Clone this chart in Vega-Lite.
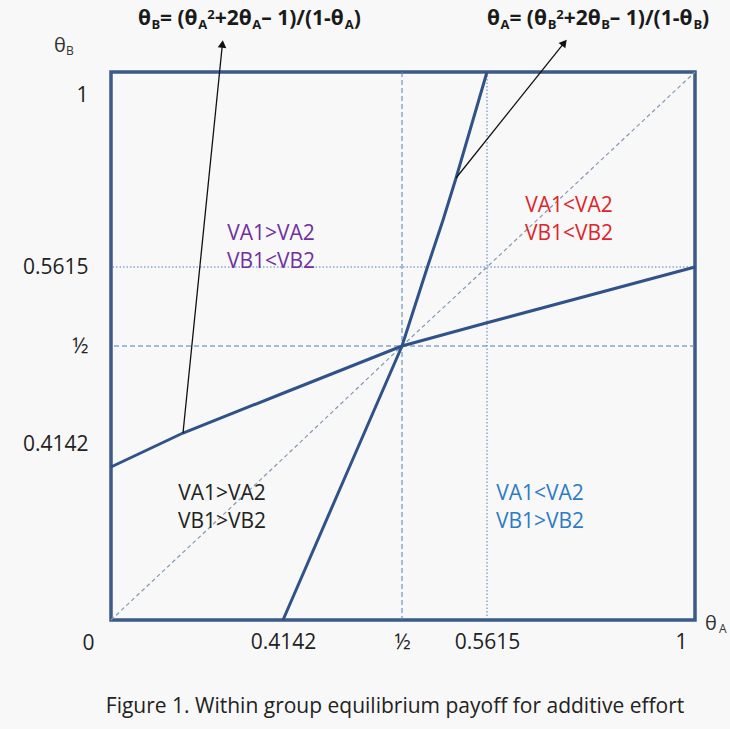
{
  "$schema": "https://vega.github.io/schema/vega-lite/v6.json",
  "autosize": "none",
  "width": 584,
  "height": 548,
  "padding": {"left": 111, "top": 72, "right": 35, "bottom": 109},
  "background": "#f8f8f8",
  "config": {
    "view": {"stroke": "#3c5a88", "strokeWidth": 3.5},
    "axis": {"domain": false, "ticks": false, "grid": false, "labelFont": "Open Sans", "labelFontSize": 21, "labelColor": "#222222", "title": null},
    "text": {"font": "Open Sans"}
  },
  "datasets": {
    "curves": [
      {"curve": "thetaB of thetaA", "a": 0, "b": 0.4142},
      {"curve": "thetaB of thetaA", "a": 0.1734, "b": 0.4383},
      {"curve": "thetaB of thetaA", "a": 0.4142, "b": 0.4665},
      {"curve": "thetaB of thetaA", "a": 0.5, "b": 0.5},
      {"curve": "thetaB of thetaA", "a": 0.5615, "b": 0.5181},
      {"curve": "thetaB of thetaA", "a": 1, "b": 0.5615},
      {"curve": "thetaA of thetaB", "a": 0.4142, "b": 0},
      {"curve": "thetaA of thetaB", "a": 0.4621, "b": 0.4142},
      {"curve": "thetaA of thetaB", "a": 0.5, "b": 0.5},
      {"curve": "thetaA of thetaB", "a": 0.5184, "b": 0.5615},
      {"curve": "thetaA of thetaB", "a": 0.5297, "b": 0.667},
      {"curve": "thetaA of thetaB", "a": 0.5391, "b": 0.7616},
      {"curve": "thetaA of thetaB", "a": 0.5615, "b": 1}
    ],
    "diagonal": [
      {"a": 0, "b": 0},
      {"a": 0.3926, "b": 0.4142},
      {"a": 0.4142, "b": 0.4202},
      {"a": 0.5, "b": 0.5},
      {"a": 0.5615, "b": 0.5615},
      {"a": 1, "b": 1}
    ],
    "vrules": [{"a": 0.5, "kind": "half"}, {"a": 0.5615, "kind": "root"}],
    "hrules": [{"b": 0.5, "kind": "half"}, {"b": 0.5615, "kind": "root"}],
    "arrows": [
      {"id": 1, "a": 0.1734, "b": 0.4383, "a2": 0.2683, "b2": 1.063},
      {"id": 2, "a": 0.5391, "b": 0.7616, "a2": 0.7245, "b2": 1.0659}
    ],
    "regions": [
      {"region": "purple", "t": "VA1>VA2\nVB1<VB2", "a": 0.3853, "b": 0.6357},
      {"region": "red", "t": "VA1<VA2\nVB1<VB2", "a": 0.7344, "b": 0.6987},
      {"region": "black", "t": "VA1>VA2\nVB1>VB2", "a": 0.2673, "b": 0.3411},
      {"region": "blue", "t": "VA1<VA2\nVB1>VB2", "a": 0.6732, "b": 0.3411}
    ],
    "pieces": [
      {"g": "f", "role": "main", "t": "θ", "a": 0.0650, "b": 1.1057},
      {"g": "f", "role": "sub", "t": "B", "a": 0.0973, "b": 1.1057},
      {"g": "f", "role": "main", "t": "= (θ", "a": 0.1180, "b": 1.1057},
      {"g": "f", "role": "sub", "t": "A", "a": 0.2102, "b": 1.1057},
      {"g": "f", "role": "sup", "t": "2", "a": 0.2319, "b": 1.1057},
      {"g": "f", "role": "main", "t": "+2θ", "a": 0.2497, "b": 1.1057},
      {"g": "f", "role": "sub", "t": "A", "a": 0.3400, "b": 1.1057},
      {"g": "f", "role": "main", "t": "– 1)/(1-θ", "a": 0.3617, "b": 1.1057},
      {"g": "f", "role": "sub", "t": "A", "a": 0.4588, "b": 1.1057},
      {"g": "f", "role": "main", "t": ")", "a": 0.4653, "b": 1.1057},
      {"g": "f", "role": "main", "t": "θ", "a": 0.5615, "b": 1.1057},
      {"g": "f", "role": "sub", "t": "A", "a": 0.5898, "b": 1.1057},
      {"g": "f", "role": "main", "t": "= (θ", "a": 0.6087, "b": 1.1057},
      {"g": "f", "role": "sub", "t": "B", "a": 0.6895, "b": 1.1057},
      {"g": "f", "role": "sup", "t": "2", "a": 0.7076, "b": 1.1057},
      {"g": "f", "role": "main", "t": "+2θ", "a": 0.7232, "b": 1.1057},
      {"g": "f", "role": "sub", "t": "B", "a": 0.8023, "b": 1.1057},
      {"g": "f", "role": "main", "t": "– 1)/(1-θ", "a": 0.8204, "b": 1.1057},
      {"g": "f", "role": "sub", "t": "B", "a": 0.9969, "b": 1.1057},
      {"g": "f", "role": "main", "t": ")", "a": 1.0150, "b": 1.1057},
      {"g": "t", "role": "main", "t": "θ", "a": -0.1373, "b": 1.0450},
      {"g": "t", "role": "sub", "t": "B", "a": -0.1084, "b": 1.0450},
      {"g": "t", "role": "main", "t": "θ", "a": 1.0212, "b": -0.0271},
      {"g": "t", "role": "sub", "t": "A", "a": 1.0506, "b": -0.0271}
    ],
    "caption": [
      {"t": "Figure 1. Within group equilibrium payoff for additive effort", "a": 0.4950, "b": -0.2350}
    ]
  },
  "layer": [
    {
      "data": {"name": "curves"},
      "mark": {"type": "line", "color": "#2f5389", "strokeWidth": 3, "opacity": 0},
      "encoding": {
        "x": {"field": "a", "type": "quantitative",
          "scale": {"type": "linear", "domain": [0, 0.4142, 0.5, 0.5615, 1], "range": [0, 172, 291, 376, 584], "nice": false, "zero": false},
          "axis": {"title": null, "values": [0.4142, 0.5, 0.5615, 1], "labelPadding": 11, "labelFlush": true, "labelFlushOffset": -8,
            "labelExpr": "datum.value == 0.5 ? '½' : datum.value == 1 ? '1' : format(datum.value, '.4f')"}},
        "y": {"field": "b", "type": "quantitative",
          "scale": {"type": "linear", "domain": [0, 0.4142, 0.5, 0.5615, 1], "range": [548, 395, 274, 195, 0], "nice": false, "zero": false},
          "axis": {"title": null, "values": [0, 0.4142, 0.5, 0.5615, 1], "labelPadding": 23, "labelLineHeight": 46, "labelFlush": false,
            "labelAlign": {"condition": {"test": "datum.value == 0", "value": "center"}, "value": "right"},
            "labelBaseline": {"condition": [{"test": "datum.value == 0 || datum.value == 1", "value": "line-top"}, {"test": "datum.value < 0.45", "value": "line-bottom"}], "value": "middle"},
            "labelExpr": "datum.value == 0.5 ? '½' : datum.value == 1 ? '1' : datum.value == 0 ? '0' : format(datum.value, '.4f')"}},
        "detail": {"field": "curve", "type": "nominal"}
      }
    },
    {
      "data": {"name": "vrules"},
      "mark": {"type": "rule", "color": "#4f7fb8", "strokeWidth": 1},
      "encoding": {
        "x": {"field": "a", "type": "quantitative", "scale": {"type": "linear", "domain": [0, 0.4142, 0.5, 0.5615, 1], "range": [0, 172, 291, 376, 584], "nice": false, "zero": false}},
        "strokeDash": {"field": "kind", "type": "nominal", "legend": null, "scale": {"domain": ["half", "root"], "range": [[5, 3], [1.5, 2]]}}
      }
    },
    {
      "data": {"name": "hrules"},
      "mark": {"type": "rule", "color": "#4f7fb8", "strokeWidth": 1},
      "encoding": {
        "y": {"field": "b", "type": "quantitative", "scale": {"type": "linear", "domain": [0, 0.4142, 0.5, 0.5615, 1], "range": [548, 395, 274, 195, 0], "nice": false, "zero": false}},
        "strokeDash": {"field": "kind", "type": "nominal", "legend": null, "scale": {"domain": ["half", "root"], "range": [[5, 3], [1.5, 2]]}}
      }
    },
    {
      "data": {"name": "diagonal"},
      "mark": {"type": "line", "color": "#8398b3", "strokeWidth": 1.2, "strokeDash": [4, 3]},
      "encoding": {
        "x": {"field": "a", "type": "quantitative", "scale": {"type": "linear", "domain": [0, 0.4142, 0.5, 0.5615, 1], "range": [0, 172, 291, 376, 584], "nice": false, "zero": false}},
        "y": {"field": "b", "type": "quantitative", "scale": {"type": "linear", "domain": [0, 0.4142, 0.5, 0.5615, 1], "range": [548, 395, 274, 195, 0], "nice": false, "zero": false}}
      }
    },
    {
      "data": {"name": "curves"},
      "mark": {"type": "line", "color": "#2f5389", "strokeWidth": 3},
      "encoding": {
        "x": {"field": "a", "type": "quantitative", "scale": {"type": "linear", "domain": [0, 0.4142, 0.5, 0.5615, 1], "range": [0, 172, 291, 376, 584], "nice": false, "zero": false}},
        "y": {"field": "b", "type": "quantitative", "scale": {"type": "linear", "domain": [0, 0.4142, 0.5, 0.5615, 1], "range": [548, 395, 274, 195, 0], "nice": false, "zero": false}},
        "detail": {"field": "curve", "type": "nominal"}
      }
    },
    {
      "data": {"name": "arrows"},
      "mark": {"type": "rule", "color": "#111111", "strokeWidth": 1.3},
      "encoding": {
        "x": {"field": "a", "type": "quantitative", "scale": {"type": "linear", "domain": [0, 0.4142, 0.5, 0.5615, 1], "range": [0, 172, 291, 376, 584], "nice": false, "zero": false}},
        "y": {"field": "b", "type": "quantitative", "scale": {"type": "linear", "domain": [0, 0.4142, 0.5, 0.5615, 1], "range": [548, 395, 274, 195, 0], "nice": false, "zero": false}},
        "x2": {"field": "a2"},
        "y2": {"field": "b2"}
      }
    },
    {
      "data": {"name": "arrows"},
      "transform": [{"filter": "datum.id == 1"}],
      "mark": {"type": "point", "shape": "triangle-up", "filled": true, "color": "#111111", "size": 75, "angle": 6, "opacity": 1},
      "encoding": {
        "x": {"field": "a2", "type": "quantitative", "scale": {"type": "linear", "domain": [0, 0.4142, 0.5, 0.5615, 1], "range": [0, 172, 291, 376, 584], "nice": false, "zero": false}},
        "y": {"field": "b2", "type": "quantitative", "scale": {"type": "linear", "domain": [0, 0.4142, 0.5, 0.5615, 1], "range": [548, 395, 274, 195, 0], "nice": false, "zero": false}}
      }
    },
    {
      "data": {"name": "arrows"},
      "transform": [{"filter": "datum.id == 2"}],
      "mark": {"type": "point", "shape": "triangle-up", "filled": true, "color": "#111111", "size": 75, "angle": 39, "opacity": 1},
      "encoding": {
        "x": {"field": "a2", "type": "quantitative", "scale": {"type": "linear", "domain": [0, 0.4142, 0.5, 0.5615, 1], "range": [0, 172, 291, 376, 584], "nice": false, "zero": false}},
        "y": {"field": "b2", "type": "quantitative", "scale": {"type": "linear", "domain": [0, 0.4142, 0.5, 0.5615, 1], "range": [548, 395, 274, 195, 0], "nice": false, "zero": false}}
      }
    },
    {
      "data": {"name": "regions"},
      "mark": {"type": "text", "fontSize": 21, "align": "center", "baseline": "middle", "lineBreak": "\n", "lineHeight": 28},
      "encoding": {
        "x": {"field": "a", "type": "quantitative", "scale": {"type": "linear", "domain": [0, 0.4142, 0.5, 0.5615, 1], "range": [0, 172, 291, 376, 584], "nice": false, "zero": false}},
        "y": {"field": "b", "type": "quantitative", "scale": {"type": "linear", "domain": [0, 0.4142, 0.5, 0.5615, 1], "range": [548, 395, 274, 195, 0], "nice": false, "zero": false}},
        "text": {"field": "t"},
        "color": {"field": "region", "type": "nominal", "legend": null, "scale": {"domain": ["purple", "red", "black", "blue"], "range": ["#7030a0", "#e0242c", "#222222", "#2e7bc4"]}}
      }
    },
    {
      "data": {"name": "pieces"},
      "transform": [{"filter": "datum.g == 'f' && datum.role == 'main'"}],
      "mark": {"type": "text", "fontSize": 21, "fontWeight": "bold", "align": "left", "baseline": "alphabetic", "color": "#1a1a1a"},
      "encoding": {
        "x": {"field": "a", "type": "quantitative", "scale": {"type": "linear", "domain": [0, 0.4142, 0.5, 0.5615, 1], "range": [0, 172, 291, 376, 584], "nice": false, "zero": false}},
        "y": {"field": "b", "type": "quantitative", "scale": {"type": "linear", "domain": [0, 0.4142, 0.5, 0.5615, 1], "range": [548, 395, 274, 195, 0], "nice": false, "zero": false}},
        "text": {"field": "t"}
      }
    },
    {
      "data": {"name": "pieces"},
      "transform": [{"filter": "datum.g == 'f' && datum.role == 'sub'"}],
      "mark": {"type": "text", "fontSize": 13, "fontWeight": "bold", "align": "left", "baseline": "alphabetic", "dy": 4, "color": "#1a1a1a"},
      "encoding": {
        "x": {"field": "a", "type": "quantitative", "scale": {"type": "linear", "domain": [0, 0.4142, 0.5, 0.5615, 1], "range": [0, 172, 291, 376, 584], "nice": false, "zero": false}},
        "y": {"field": "b", "type": "quantitative", "scale": {"type": "linear", "domain": [0, 0.4142, 0.5, 0.5615, 1], "range": [548, 395, 274, 195, 0], "nice": false, "zero": false}},
        "text": {"field": "t"}
      }
    },
    {
      "data": {"name": "pieces"},
      "transform": [{"filter": "datum.g == 'f' && datum.role == 'sup'"}],
      "mark": {"type": "text", "fontSize": 13, "fontWeight": "bold", "align": "left", "baseline": "alphabetic", "dy": -6, "color": "#1a1a1a"},
      "encoding": {
        "x": {"field": "a", "type": "quantitative", "scale": {"type": "linear", "domain": [0, 0.4142, 0.5, 0.5615, 1], "range": [0, 172, 291, 376, 584], "nice": false, "zero": false}},
        "y": {"field": "b", "type": "quantitative", "scale": {"type": "linear", "domain": [0, 0.4142, 0.5, 0.5615, 1], "range": [548, 395, 274, 195, 0], "nice": false, "zero": false}},
        "text": {"field": "t"}
      }
    },
    {
      "data": {"name": "pieces"},
      "transform": [{"filter": "datum.g == 't' && datum.role == 'main'"}],
      "mark": {"type": "text", "fontSize": 20, "align": "left", "baseline": "alphabetic", "color": "#333333"},
      "encoding": {
        "x": {"field": "a", "type": "quantitative", "scale": {"type": "linear", "domain": [0, 0.4142, 0.5, 0.5615, 1], "range": [0, 172, 291, 376, 584], "nice": false, "zero": false}},
        "y": {"field": "b", "type": "quantitative", "scale": {"type": "linear", "domain": [0, 0.4142, 0.5, 0.5615, 1], "range": [548, 395, 274, 195, 0], "nice": false, "zero": false}},
        "text": {"field": "t"}
      }
    },
    {
      "data": {"name": "pieces"},
      "transform": [{"filter": "datum.g == 't' && datum.role == 'sub'"}],
      "mark": {"type": "text", "fontSize": 12, "align": "left", "baseline": "alphabetic", "dy": 3, "color": "#333333"},
      "encoding": {
        "x": {"field": "a", "type": "quantitative", "scale": {"type": "linear", "domain": [0, 0.4142, 0.5, 0.5615, 1], "range": [0, 172, 291, 376, 584], "nice": false, "zero": false}},
        "y": {"field": "b", "type": "quantitative", "scale": {"type": "linear", "domain": [0, 0.4142, 0.5, 0.5615, 1], "range": [548, 395, 274, 195, 0], "nice": false, "zero": false}},
        "text": {"field": "t"}
      }
    },
    {
      "data": {"name": "caption"},
      "mark": {"type": "text", "fontSize": 21, "align": "center", "baseline": "middle", "color": "#222222"},
      "encoding": {
        "x": {"field": "a", "type": "quantitative", "scale": {"type": "linear", "domain": [0, 0.4142, 0.5, 0.5615, 1], "range": [0, 172, 291, 376, 584], "nice": false, "zero": false}},
        "y": {"field": "b", "type": "quantitative", "scale": {"type": "linear", "domain": [0, 0.4142, 0.5, 0.5615, 1], "range": [548, 395, 274, 195, 0], "nice": false, "zero": false}},
        "text": {"field": "t"}
      }
    }
  ]
}
